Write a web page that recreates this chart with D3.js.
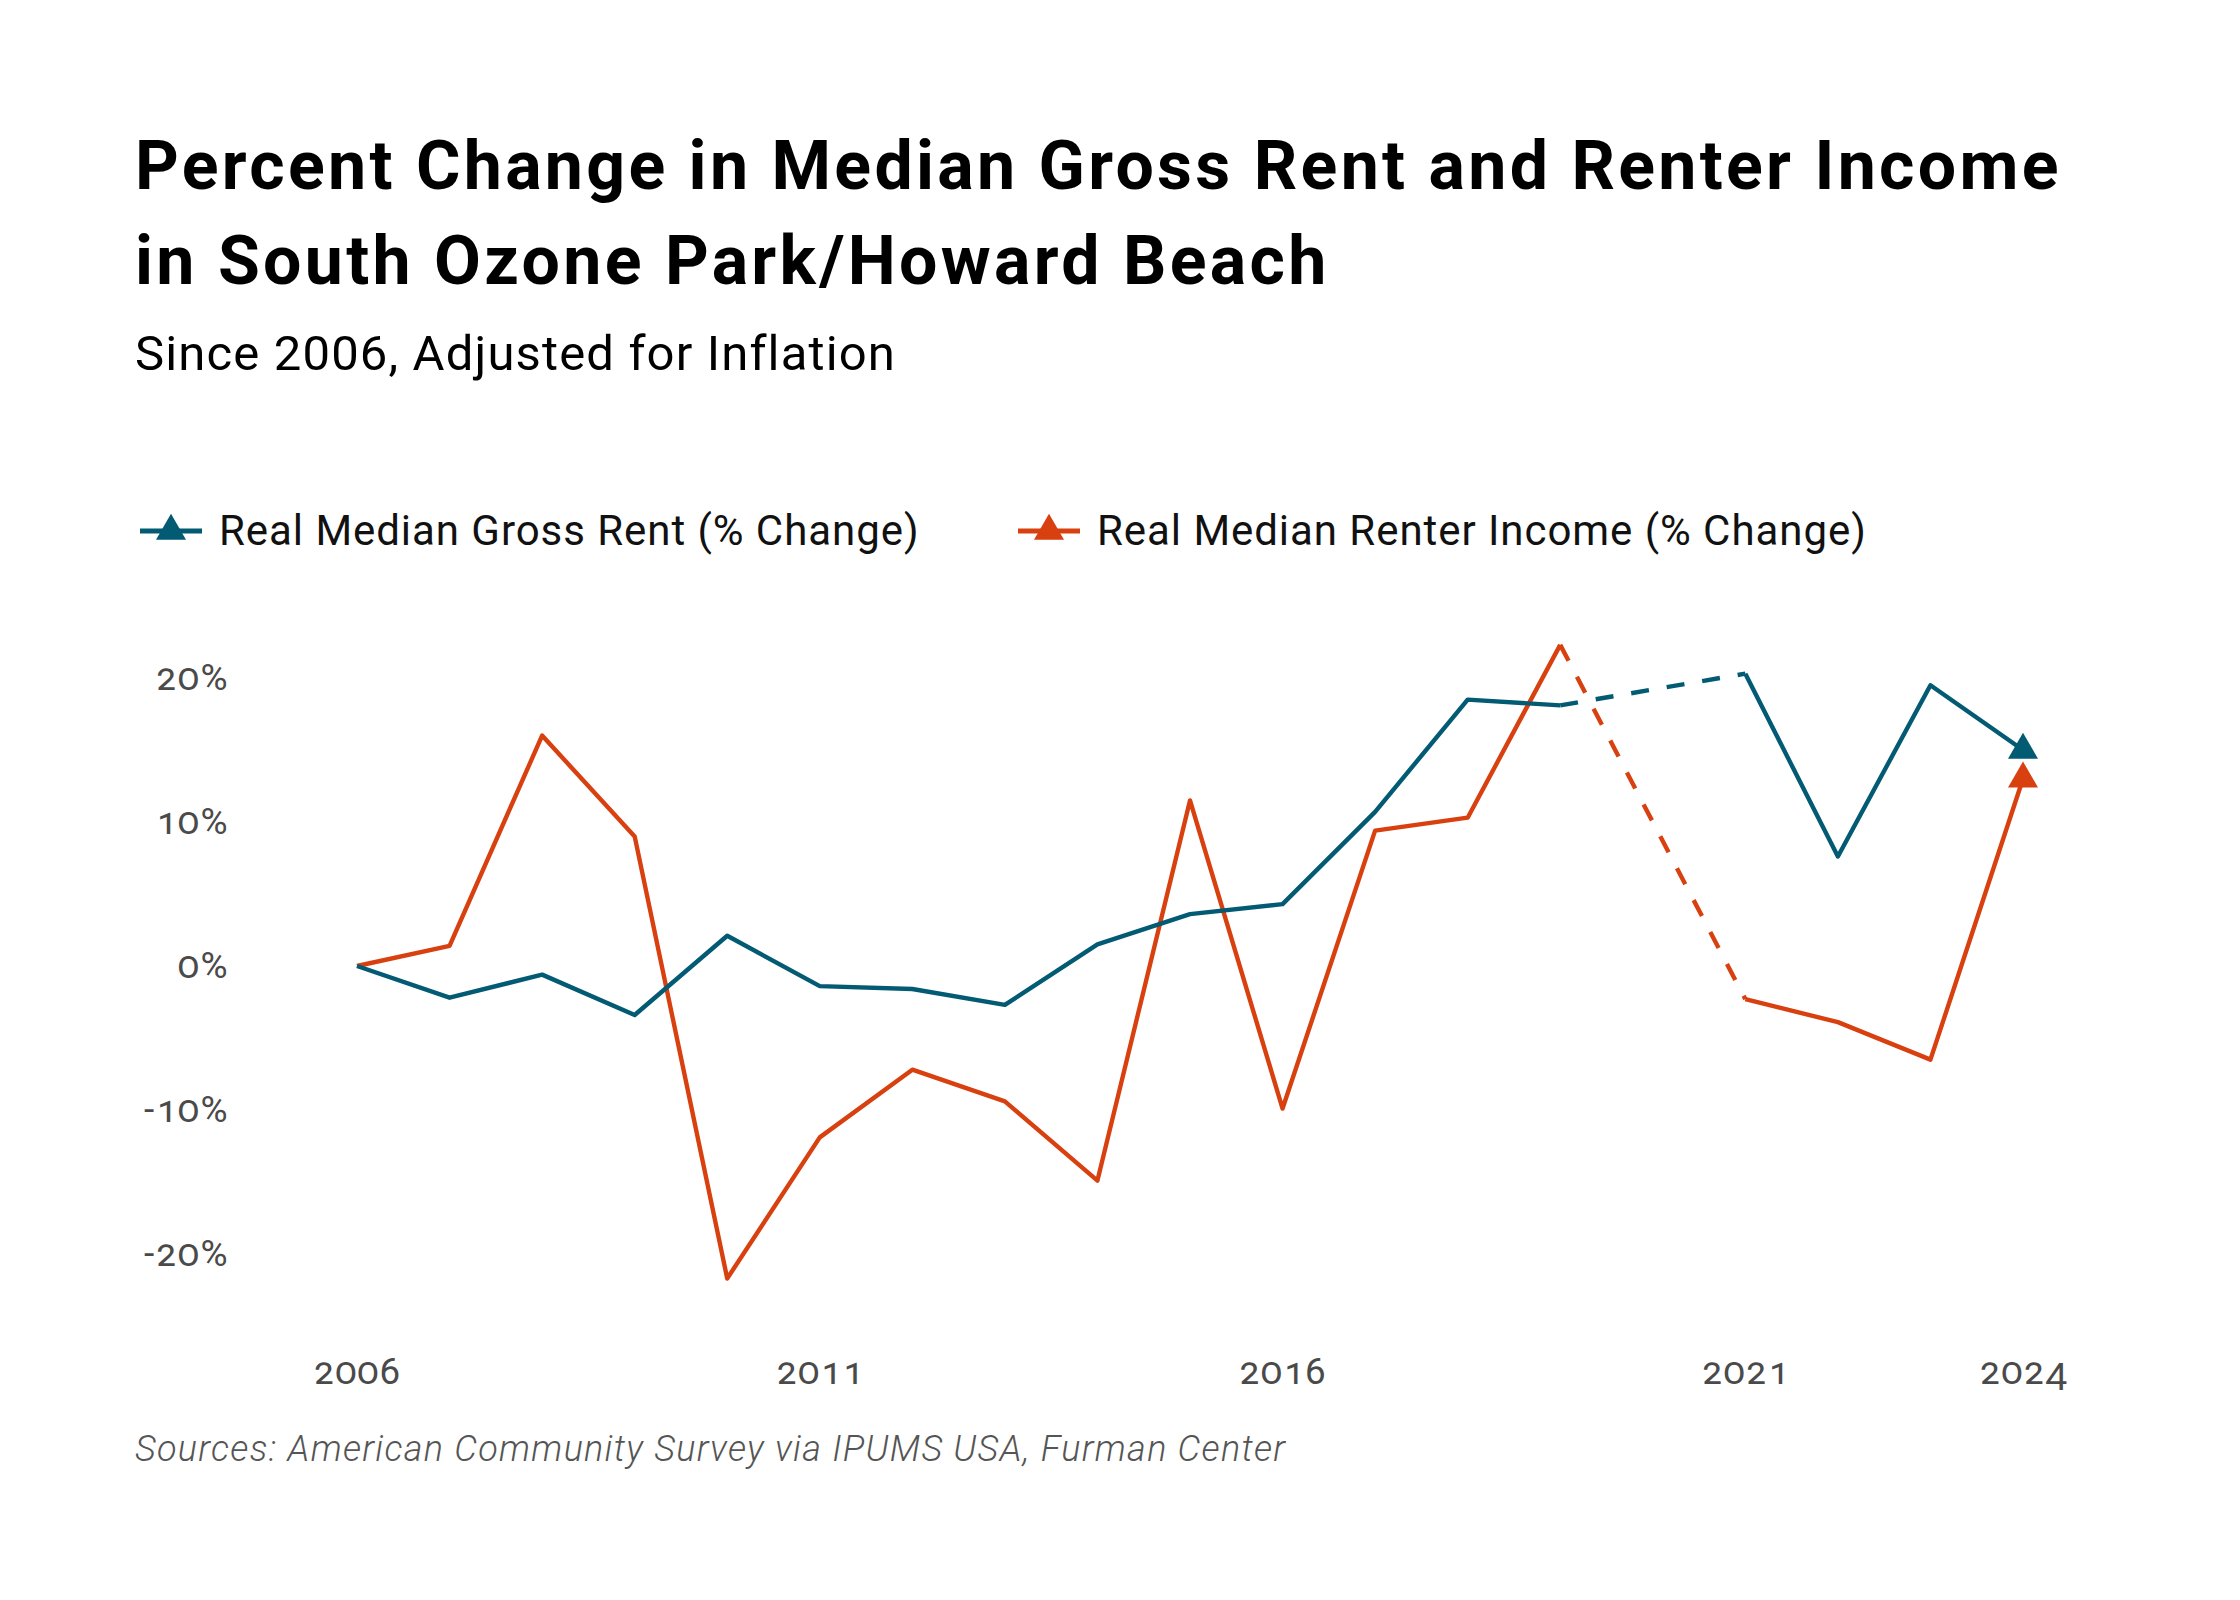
<!DOCTYPE html>
<html lang="en">
  <head>
    <meta charset="utf-8">
    <title>Rent and Renter Income, South Ozone Park/Howard Beach</title>
    <script src="https://d3js.org/d3.v7.min.js"></script>
    <style>
      body { margin: 0; background: #fff; }
      text { font-family: Roboto, "Noto Sans", sans-serif; }
      .tick text { font-variant-numeric: oldstyle-nums; font-feature-settings: "onum" 1; }
    </style>
  </head>
  <body>
    <script type="text/javascript">
      var w = 2240;
      var h = 1600;

      // data (2020 has no estimate)
      var years = [2006, 2007, 2008, 2009, 2010, 2011, 2012, 2013, 2014, 2015,
                   2016, 2017, 2018, 2019, 2020, 2021, 2022, 2023, 2024];
      var rentChange = [0, -2.2, -0.6, -3.4, 2.1, -1.4, -1.6, -2.7, 1.5, 3.6,
                        4.3, 10.7, 18.5, 18.1, null, 20.3, 7.6, 19.5, 15.0];
      var incomeChange = [0, 1.4, 16.0, 9.0, -21.7, -11.9, -7.2, -9.4, -14.9, 11.5,
                          -9.9, 9.4, 10.3, 22.3, null, -2.3, -3.9, -6.5, 13.0];
      var seriesNames = ["Real Median Gross Rent (% Change)", "Real Median Renter Income (% Change)"];
      var yTicks = [-20, -10, 0, 10, 20];
      var xTicks = [2006, 2011, 2016, 2021, 2024];

      var blue = "#035a73";
      var orange = "#d8400f";

      var series = [
        {name: seriesNames[1], color: orange, values: incomeChange},
        {name: seriesNames[0], color: blue, values: rentChange}
      ];

      var xScale = d3.scaleLinear()
          .domain([2006, 2024])
          .range([357, 2023]);
      var yScale = d3.scaleLinear()
          .domain([-20, 20])
          .range([1254, 678]);

      var svg = d3.select("body")
          .append("svg")
          .attr("width", w)
          .attr("height", h);

      svg.append("rect")
          .attr("width", w)
          .attr("height", h)
          .attr("fill", "#fff");

      // titles
      svg.append("text")
          .attr("x", 135)
          .attr("y", 189)
          .attr("font-size", 68)
          .attr("font-weight", 700)
          .attr("letter-spacing", 3.3)
          .text("Percent Change in Median Gross Rent and Renter Income");
      svg.append("text")
          .attr("x", 135)
          .attr("y", 284)
          .attr("font-size", 68)
          .attr("font-weight", 700)
          .attr("letter-spacing", 3.3)
          .text("in South Ozone Park/Howard Beach");
      svg.append("text")
          .attr("x", 135)
          .attr("y", 370)
          .attr("font-size", 49)
          .attr("letter-spacing", 1.15)
          .text("Since 2006, Adjusted for Inflation");

      // legend
      var legend = svg.append("g")
          .selectAll("g")
          .data([series[1], series[0]])
          .enter()
          .append("g")
          .attr("transform", function(d, i) { return "translate(" + [140, 1018][i] + ",531)"; });
      legend.append("line")
          .attr("x1", 0)
          .attr("x2", 62)
          .attr("stroke", d => d.color)
          .attr("stroke-width", 5);
      legend.append("path")
          .attr("transform", "translate(31,0)")
          .attr("d", d3.symbol(d3.symbolTriangle, 390))
          .attr("fill", d => d.color);
      legend.append("text")
          .attr("x", 79)
          .attr("y", 14)
          .attr("font-size", 42)
          .attr("letter-spacing", 0.95)
          .attr("fill", "#111")
          .text(d => d.name);

      // axes
      var yAxis = d3.axisLeft(yScale)
          .tickValues(yTicks)
          .tickSize(0)
          .tickPadding(0)
          .tickFormat(d => (d < 0 ? "-" : "") + Math.abs(d) + "%");
      var gy = svg.append("g")
          .attr("transform", "translate(229,0)")
          .call(yAxis);
      gy.select(".domain").remove();
      gy.selectAll("text")
          .attr("font-family", "Lato, sans-serif")
          .attr("font-size", 37)
          .attr("letter-spacing", 1.5)
          .attr("fill", "#4a4a4a");

      var xAxis = d3.axisBottom(xScale)
          .tickValues(xTicks)
          .tickSize(0)
          .tickFormat(d3.format("d"));
      var gx = svg.append("g")
          .attr("transform", "translate(0,1384)")
          .call(xAxis);
      gx.select(".domain").remove();
      gx.selectAll("text")
          .attr("y", 0)
          .attr("dy", null)
          .attr("font-family", "Lato, sans-serif")
          .attr("font-size", 37)
          .attr("letter-spacing", 1.2)
          .attr("fill", "#4a4a4a");

      // lines
      var line = d3.line()
          .defined(d => d.v != null)
          .x(d => xScale(d.year))
          .y(d => yScale(d.v));

      series.forEach(function(s) {
        var pts = years.map(function(y, i) { return {year: y, v: s.values[i]}; });

        // dashed bridge over missing years
        var bridges = [];
        pts.forEach(function(p, i) {
          if (p.v == null) {
            var a = i - 1, b = i + 1;
            while (a >= 0 && pts[a].v == null) a--;
            while (b < pts.length && pts[b].v == null) b++;
            if (a >= 0 && b < pts.length) bridges.push([pts[a], pts[b]]);
          }
        });
        svg.append("g").selectAll("path")
            .data(bridges)
            .enter()
            .append("path")
            .attr("d", line)
            .attr("fill", "none")
            .attr("stroke", s.color)
            .attr("stroke-width", 4.4)
            .attr("stroke-dasharray", "18,18");

        svg.append("path")
            .datum(pts)
            .attr("d", line)
            .attr("fill", "none")
            .attr("stroke", s.color)
            .attr("stroke-width", 4.4)
            .attr("stroke-linejoin", "round");

        var last = pts[pts.length - 1];
        svg.append("path")
            .attr("transform", "translate(" + xScale(last.year) + "," + yScale(last.v) + ")")
            .attr("d", d3.symbol(d3.symbolTriangle, 390))
            .attr("fill", s.color);
      });

      // source note
      svg.append("text")
          .attr("x", 135)
          .attr("y", 1461)
          .attr("font-family", "'Open Sans', sans-serif")
          .attr("font-style", "italic")
          .attr("font-weight", 300)
          .attr("font-size", 36)
          .attr("letter-spacing", 1.3)
          .attr("fill", "#555")
          .text("Sources: American Community Survey via IPUMS USA, Furman Center");
    </script>
  </body>
</html>
